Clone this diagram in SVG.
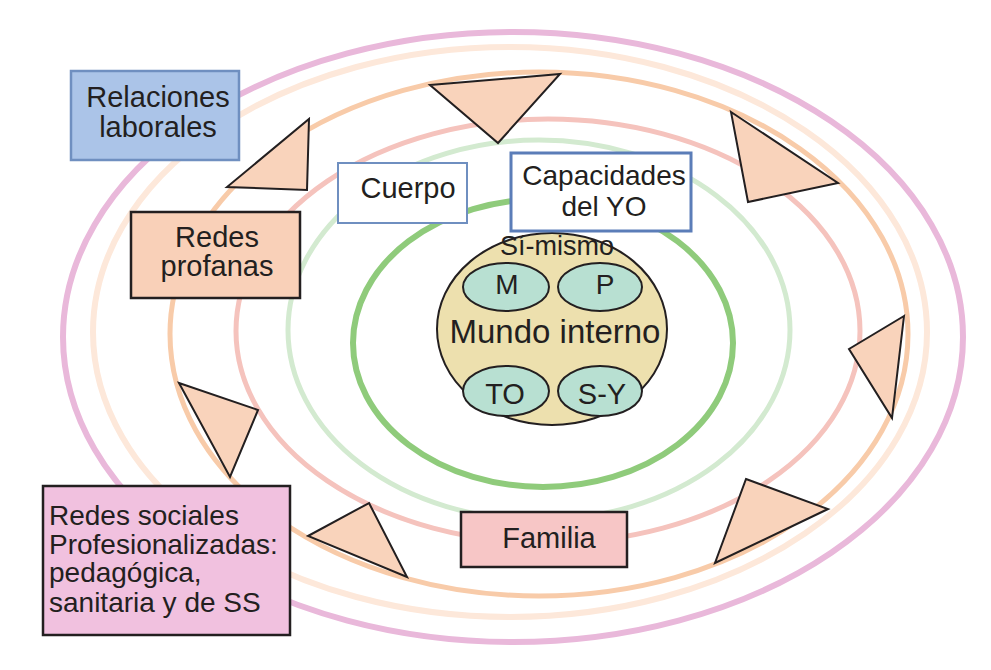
<svg xmlns="http://www.w3.org/2000/svg" width="991" height="670" viewBox="0 0 991 670">
<style>
text{font-family:"Liberation Sans",Arial,sans-serif;fill:#231f20;font-size:29px}
.ring{fill:none}
.tri{fill:#f9d3bb;stroke:#231f20;stroke-width:2;stroke-linejoin:miter}
.box{stroke:#231f20;stroke-width:2.5}
.c{text-anchor:middle}
.sm{fill:#b8e0d2;stroke:#231f20;stroke-width:2}
.lt{font-size:28px}
</style>
<rect width="991" height="670" fill="#ffffff"/>
<g id="rings">
<ellipse class="ring" cx="513" cy="337" rx="450" ry="305" stroke="#e9b8da" stroke-width="6"/>
<ellipse class="ring" cx="510" cy="332" rx="417" ry="285" stroke="#fde8da" stroke-width="6"/>
<ellipse class="ring" cx="539" cy="334" rx="369" ry="262" stroke="#f8cba9" stroke-width="5"/>
<ellipse class="ring" cx="548" cy="331" rx="312" ry="212" stroke="#f5c3bd" stroke-width="5"/>
<ellipse class="ring" cx="539" cy="330" rx="251" ry="190" stroke="#d3ead0" stroke-width="5"/>
<ellipse class="ring" cx="543" cy="343" rx="190" ry="144" stroke="#8fcb7b" stroke-width="6"/>
</g>
<g id="connectors">
<polygon class="tri" points="430,85 560,74 498,143"/>
<polygon class="tri" points="309,119 307,190 227,187"/>
<polygon class="tri" points="731,112 838,183 748,202"/>
<polygon class="tri" points="904,316 849,349 892,418"/>
<polygon class="tri" points="746,479 828,509 715,563"/>
<polygon class="tri" points="369,503 407,577 308,536"/>
<polygon class="tri" points="179,383 258,410 230,477"/>
</g>
<g id="mundo">
<ellipse cx="552" cy="329" rx="115" ry="96" fill="#ede0ae" stroke="#231f20" stroke-width="2"/>
<text x="557" y="255" class="c" style="font-size:27px">Sí-mismo</text>
<text x="555" y="343" class="c" style="font-size:33px">Mundo interno</text>
</g>
<g id="m"><ellipse class="sm" cx="506" cy="287" rx="43" ry="24"/><text x="507" y="294" class="c" style="font-size:28px">M</text></g>
<g id="p"><ellipse class="sm" cx="600" cy="287" rx="42" ry="24"/><text x="605" y="294" class="c" style="font-size:28px">P</text></g>
<g id="to"><ellipse class="sm" cx="506" cy="391" rx="43" ry="25"/><text x="505" y="404" class="c" style="font-size:29px">TO</text></g>
<g id="sy"><ellipse class="sm" cx="600" cy="391" rx="42" ry="25"/><text x="602" y="404" class="c" style="font-size:29px">S-Y</text></g>
<g id="relaciones">
<rect x="71" y="71" width="168" height="89" fill="#abc4e8" stroke="#6f8fc0" stroke-width="2.5"/>
<text x="158" y="107" class="c">Relaciones</text>
<text x="158" y="137" class="c">laborales</text>
</g>
<g id="profanas">
<rect class="box" x="131" y="212" width="169" height="86" fill="#f9d0b8"/>
<text x="217" y="247" class="c">Redes</text>
<text x="217" y="276" class="c">profanas</text>
</g>
<g id="cuerpo">
<rect x="338" y="163" width="129" height="60" fill="#ffffff" stroke="#6f8fc0" stroke-width="2"/>
<text x="408" y="198" class="c">Cuerpo</text>
</g>
<g id="capacidades">
<rect x="511" y="153" width="180" height="78" fill="#ffffff" stroke="#5b7db8" stroke-width="3"/>
<text x="604" y="185" class="c lt">Capacidades</text>
<text x="604" y="216" class="c lt">del YO</text>
</g>
<g id="familia">
<rect class="box" x="461" y="512" width="166" height="55" fill="#f7c6c6"/>
<text x="549" y="548" class="c">Familia</text>
</g>
<g id="redes-sociales">
<rect class="box" x="43" y="486" width="247" height="149" fill="#f1c1df"/>
<text x="49" y="525" class="lt">Redes sociales</text>
<text x="49" y="554" class="lt">Profesionalizadas:</text>
<text x="49" y="582" class="lt">pedagógica,</text>
<text x="49" y="612" class="lt">sanitaria y de SS</text>
</g>
</svg>
